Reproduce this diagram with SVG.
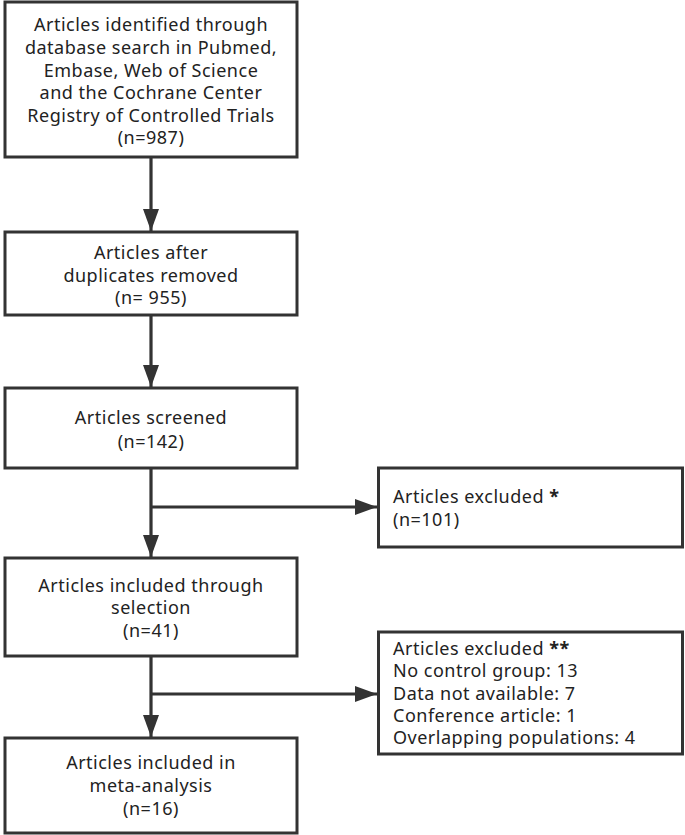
<svg xmlns="http://www.w3.org/2000/svg" width="685" height="835" viewBox="0 0 685 835">
<style>
.box{fill:#fff;stroke:#333;stroke-width:3}
.ln{stroke:#333;stroke-width:3.2;fill:none}
text{font-family:"Noto Sans","Open Sans",sans-serif;font-size:18px;letter-spacing:0.5px;fill:#222}
.c{text-anchor:middle}
.b{font-weight:bold}
</style>
<defs>
<marker id="ah" markerWidth="22" markerHeight="16" refX="22" refY="8" orient="auto" markerUnits="userSpaceOnUse">
<path d="M0,0 L22,8 L0,16 Z" fill="#333"/>
</marker>
</defs>
<rect width="685" height="835" fill="#fff"/>
<g id="connectors">
<line class="ln" x1="151" y1="157" x2="151" y2="231" marker-end="url(#ah)"/>
<line class="ln" x1="151" y1="315" x2="151" y2="387" marker-end="url(#ah)"/>
<line class="ln" x1="151" y1="468" x2="151" y2="557" marker-end="url(#ah)"/>
<line class="ln" x1="151" y1="507" x2="377" y2="507" marker-end="url(#ah)"/>
<line class="ln" x1="151" y1="656" x2="151" y2="737" marker-end="url(#ah)"/>
<line class="ln" x1="151" y1="694" x2="377" y2="694" marker-end="url(#ah)"/>
</g>
<g id="n1">
<rect class="box" x="5" y="2" width="292" height="155"/>
<text class="c" x="151" y="31">Articles identified through</text>
<text class="c" x="151" y="54">database search in Pubmed,</text>
<text class="c" x="151" y="77">Embase, Web of Science</text>
<text class="c" x="151" y="99">and the Cochrane Center</text>
<text class="c" x="151" y="122">Registry of Controlled Trials</text>
<text class="c" x="151" y="144">(n=987)</text>
</g>
<g id="n2">
<rect class="box" x="5" y="232" width="292" height="83"/>
<text class="c" x="151" y="259">Articles after</text>
<text class="c" x="151" y="282">duplicates removed</text>
<text class="c" x="151" y="304">(n= 955)</text>
</g>
<g id="n3">
<rect class="box" x="5" y="388" width="292" height="80"/>
<text class="c" x="151" y="424">Articles screened</text>
<text class="c" x="151" y="448">(n=142)</text>
</g>
<g id="n4">
<rect class="box" x="378.5" y="468" width="304" height="79"/>
<text x="393" y="503">Articles excluded <tspan class="b">*</tspan></text>
<text x="393" y="526">(n=101)</text>
</g>
<g id="n5">
<rect class="box" x="5" y="558" width="292" height="98"/>
<text class="c" x="151" y="592">Articles included through</text>
<text class="c" x="151" y="614">selection</text>
<text class="c" x="151" y="637">(n=41)</text>
</g>
<g id="n6">
<rect class="box" x="378.5" y="632" width="304" height="122"/>
<text x="393" y="655">Articles excluded <tspan class="b">**</tspan></text>
<text x="393" y="677">No control group: 13</text>
<text x="393" y="700">Data not available: 7</text>
<text x="393" y="722">Conference article: 1</text>
<text x="393" y="744">Overlapping populations: 4</text>
</g>
<g id="n7">
<rect class="box" x="5" y="738" width="292" height="95"/>
<text class="c" x="151" y="769">Articles included in</text>
<text class="c" x="151" y="792">meta-analysis</text>
<text class="c" x="151" y="815">(n=16)</text>
</g>
</svg>
